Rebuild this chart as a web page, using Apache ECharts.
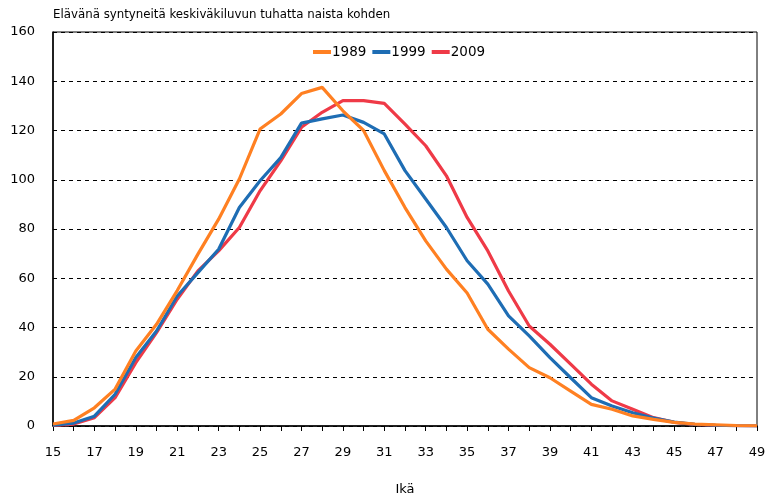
<!DOCTYPE html>
<html><head><meta charset="utf-8">
<script src="https://cdn.jsdelivr.net/npm/echarts@6/dist/echarts.min.js"></script>
<style>html,body{margin:0;padding:0;background:#fff}#c{width:766px;height:497px}</style>
</head><body><div id="c"></div>
<script>
var ages = ['15','16','17','18','19','20','21','22','23','24','25','26','27','28','29','30','31','32','33','34','35','36','37','38','39','40','41','42','43','44','45','46','47','48','49'];
var s1989 = [0.8,2.3,7.4,15,30.5,41.3,55,69.8,84,100.3,120.6,126.7,135,137.5,128,120,103.7,88.7,75.2,63.7,54,39.3,31.2,23.7,19.6,14.2,8.8,6.8,4.1,2.7,1.5,0.8,0.5,0.2,0.1];
var s1999 = [0.3,1.2,4,12.9,27.8,38.6,52.8,62.3,71.8,88.7,99.6,109,123,124.7,126.3,123.3,118.6,103.7,92.2,80.6,67.1,57.6,44.7,36.6,27.8,19.6,11.5,8.1,5.4,3.2,1.6,0.7,0.3,0.1,0];
var s2009 = [0.2,0.8,3.4,11.5,25.7,37.9,51.5,63,71.1,80.6,95.5,107.7,121.3,127.4,132.1,132.1,131,122.6,113.8,101.6,84.7,71.1,54.8,40.6,33.2,25.1,17,10.2,6.8,3.4,1.5,0.6,0.3,0.1,0];
var seriesNames = ['1989','1999','2009'];
var colors = ['#FF8022','#1E6DB4','#EF3A47'];
var yTicks = [0,20,40,60,80,100,120,140,160];

var chart = echarts.init(document.getElementById('c'), null, {renderer:'canvas'});
var font = 'DejaVu Sans';
chart.setOption({
  animation:false,
  color: colors,
  title:{text:'Elävänä syntyneitä keskiväkiluvun tuhatta naista kohden', left:53, top:9, padding:0,
    textStyle:{fontFamily:font, fontSize:11.8, fontWeight:'normal', color:'#000'}},
  legend:{top:45, left:313, padding:0, icon:'rect', itemWidth:18, itemHeight:4, itemGap:6,
    data:seriesNames, textStyle:{fontFamily:font, fontSize:13.5, color:'#000', padding:[0,0,0,-4]}},
  grid:{left:53, right:9, top:32, bottom:71, show:true, borderColor:'#000', borderWidth:1,
    containLabel:false, outerBoundsMode:'none'},
  xAxis:{type:'category', data:ages, boundaryGap:false, name:'Ikä', nameLocation:'middle', nameGap:57,
    nameTextStyle:{fontFamily:font, fontSize:13, color:'#000'},
    axisLine:{lineStyle:{color:'#000', width:1.5}},
    axisTick:{interval:0, length:5, lineStyle:{color:'#000'}},
    axisLabel:{interval:1, fontFamily:font, fontSize:13, color:'#000', margin:20}},
  yAxis:{type:'value', min:yTicks[0], max:yTicks[yTicks.length-1], interval:20,
    axisLine:{show:true, lineStyle:{color:'#000', width:1.5}},
    axisTick:{show:false},
    axisLabel:{fontFamily:font, fontSize:13, color:'#000', margin:18},
    splitLine:{lineStyle:{color:'#000', type:[4,4], width:1}}},
  series:[s1989,s1999,s2009].map(function(d,i){
    return {name:seriesNames[i], type:'line', data:d, symbol:'none', z:10-i,
      lineStyle:{width:3.2, color:colors[i]}, itemStyle:{color:colors[i]}};
  }).reverse()
});
</script></body></html>
